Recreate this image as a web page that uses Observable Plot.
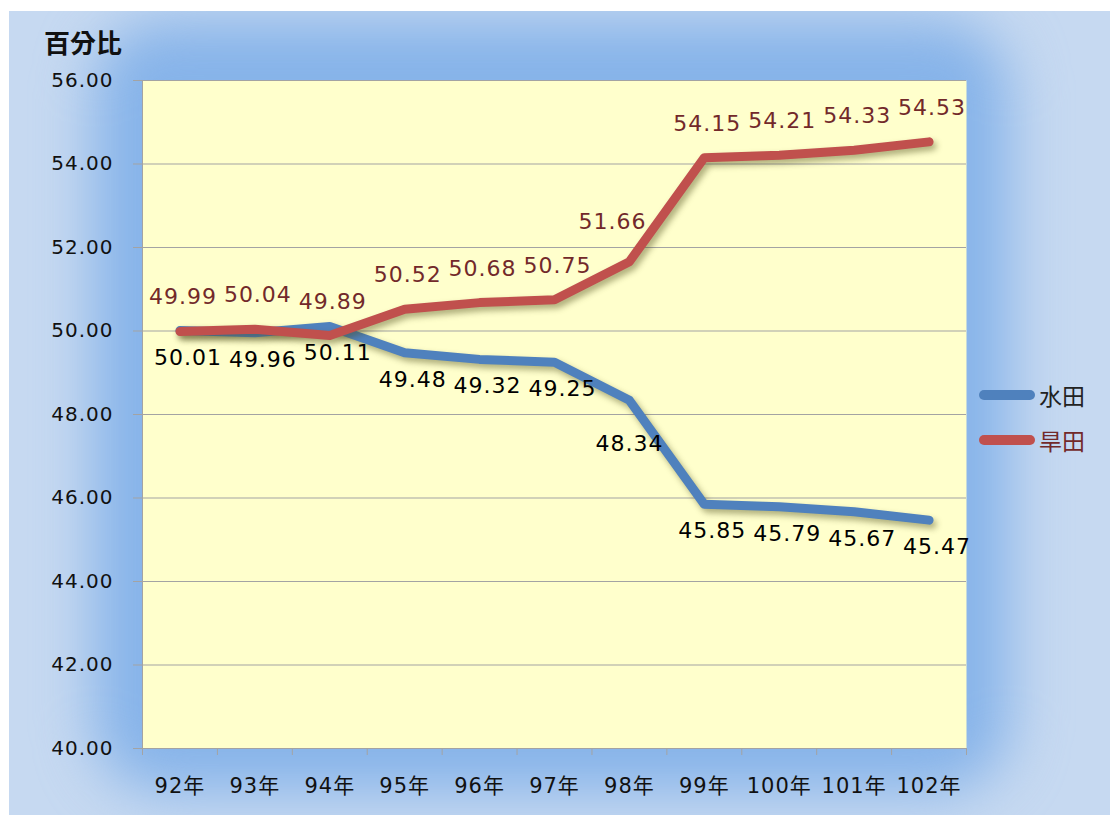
<!DOCTYPE html>
<html>
<head>
<meta charset="utf-8">
<script src="https://cdn.jsdelivr.net/npm/d3@7"></script>
<script src="https://cdn.jsdelivr.net/npm/@observablehq/plot@0.6"></script>
<style>
  html, body { margin: 0; padding: 0; background: #fff; }
  #wrap { position: relative; width: 1110px; height: 815px; overflow: hidden; font-family: "DejaVu Sans", "Noto Sans CJK TC", sans-serif; }
  #frame { position: absolute; left: 9px; top: 11px; width: 1101px; height: 804px; background: #C6D9F1; overflow: hidden; }
  #glow { position: absolute; left: 85px; top: 10px; width: 915px; height: 770px; background: #86B3E9; border-radius: 70px; filter: blur(28px); }
  #chart { position: absolute; left: 0; top: 0; }
  #title { position: absolute; left: 44px; top: 23px; font-size: 26px; font-weight: bold; color: #111; font-family: "Noto Sans CJK TC", sans-serif; }
  #legend { position: absolute; left: 979px; top: 379px; font-size: 23px; font-family: "Noto Sans CJK TC", sans-serif; }
  .row { display: flex; align-items: center; height: 32px; margin-bottom: 13px; }
  .sw { display: inline-block; width: 56px; height: 10px; border-radius: 5px; margin-right: 4px; }
</style>
</head>
<body>
<div id="wrap">
  <div id="frame"><div id="glow"></div></div>
  <div id="chart"></div>
  <div id="title">百分比</div>
  <div id="legend"></div>
</div>
<script>
const years = ["92年","93年","94年","95年","96年","97年","98年","99年","100年","101年","102年"];
const paddy = [50.01, 49.96, 50.11, 49.48, 49.32, 49.25, 48.34, 45.85, 45.79, 45.67, 45.47]; // 水田
const dry   = [49.99, 50.04, 49.89, 50.52, 50.68, 50.75, 51.66, 54.15, 54.21, 54.33, 54.53]; // 旱田
const seriesNames = ["水田", "旱田"];
const seriesColors = ["#4F81BD", "#C0504D"];
const labelColors = ["#000000", "#72292A"];
const yTicks = [40, 42, 44, 46, 48, 50, 52, 54, 56];

const idx = d3.range(years.length);
const bounds = d3.range(-0.5, years.length, 1);
const steep = (arr) => (d, i) => i < arr.length - 1 && Math.abs(arr[i + 1] - d) > 1;
const notSteep = (arr) => (d, i) => !steep(arr)(d, i);

const plot = Plot.plot({
  width: 1110,
  height: 815,
  marginLeft: 142,
  marginRight: 144,
  marginTop: 80,
  marginBottom: 67,
  style: { background: "transparent", fontFamily: "'DejaVu Sans', 'Noto Sans CJK TC', sans-serif", letterSpacing: "1px", overflow: "visible" },
  x: { type: "linear", domain: [-0.5, years.length - 0.5] },
  y: { domain: [40, 56] },
  marks: [
    Plot.frame({ fill: "#FFFFCC", stroke: null }),
    Plot.gridY(yTicks, { stroke: "#A3A3A3", strokeOpacity: 1 }),
    Plot.ruleX([-0.5], { stroke: "#A3A3A3" }),
    Plot.ruleY([40], { stroke: "#A3A3A3" }),
    Plot.axisY(yTicks, { tickSize: 9, tickPadding: 20, tickFormat: d => d.toFixed(2), fontSize: 20, label: null, stroke: "#A3A3A3", fill: "#111" }),
    Plot.axisX(bounds, { tickSize: 7, tickFormat: () => "", label: null, stroke: "#A3A3A3" }),
    Plot.axisX(idx, { tickSize: 0, tickPadding: 30, tickFormat: i => years[i], fontSize: 21, label: null, fill: "#111" }),
    Plot.lineY(paddy, { x: (d, i) => i, y: d => d, stroke: seriesColors[0], strokeWidth: 9, strokeLinecap: "round", strokeLinejoin: "round" }),
    Plot.lineY(dry, { x: (d, i) => i, y: d => d, stroke: seriesColors[1], strokeWidth: 9, strokeLinecap: "round", strokeLinejoin: "round" }),
    Plot.text(paddy, { filter: notSteep(paddy), x: (d, i) => i, y: d => d, text: d => d.toFixed(2), dx: 8, dy: 27, fill: labelColors[0], fontSize: 22 }),
    Plot.text(paddy, { filter: steep(paddy), x: (d, i) => i, y: d => d, text: d => d.toFixed(2), dx: 0, dy: 44, fill: labelColors[0], fontSize: 22 }),
    Plot.text(dry, { filter: notSteep(dry), x: (d, i) => i, y: d => d, text: d => d.toFixed(2), dx: 3, dy: -34, fill: labelColors[1], fontSize: 22 }),
    Plot.text(dry, { filter: steep(dry), x: (d, i) => i, y: d => d, text: d => d.toFixed(2), dx: -17, dy: -40, fill: labelColors[1], fontSize: 22 })
  ]
});
plot.querySelectorAll('g[aria-label="line"]').forEach(g => {
  g.style.filter = "drop-shadow(3px 4px 3px rgba(70,70,20,0.45))";
});
document.getElementById("chart").appendChild(plot);

const legend = document.getElementById("legend");
seriesNames.forEach((name, k) => {
  const row = document.createElement("div");
  row.className = "row";
  const sw = document.createElement("span");
  sw.className = "sw";
  sw.style.background = seriesColors[k];
  const t = document.createElement("span");
  t.textContent = name;
  t.style.color = k === 0 ? "#222" : labelColors[1];
  row.appendChild(sw);
  row.appendChild(t);
  legend.appendChild(row);
});
</script>
</body>
</html>
